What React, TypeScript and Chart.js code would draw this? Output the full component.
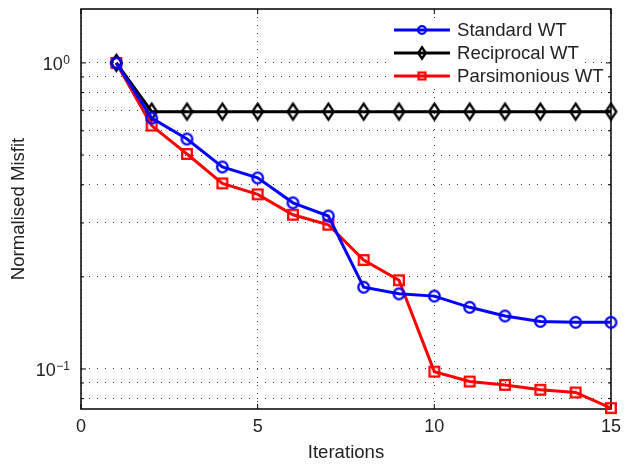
import React, { useEffect, useRef } from "react";
import { Chart, registerables } from "chart.js";

Chart.register(...registerables);

const iterations = [1, 2, 3, 4, 5, 6, 7, 8, 9, 10, 11, 12, 13, 14, 15];
const standardWT = [1.0, 0.66, 0.564, 0.457, 0.421, 0.349, 0.316, 0.185, 0.176, 0.173, 0.159, 0.149, 0.143, 0.142, 0.142];
const reciprocalWT = [1.0, 0.693, 0.693, 0.693, 0.693, 0.693, 0.693, 0.693, 0.693, 0.693, 0.693, 0.693, 0.693, 0.693, 0.693];
const parsimoniousWT = [1.0, 0.624, 0.504, 0.404, 0.372, 0.319, 0.296, 0.227, 0.195, 0.098, 0.091, 0.0887, 0.0855, 0.0838, 0.0745];
const seriesNames = ["Standard WT", "Reciprocal WT", "Parsimonious WT"];
const xTicks = [0, 5, 10, 15];
const yGridValues = [0.08, 0.09, 0.1, 0.2, 0.3, 0.4, 0.5, 0.6, 0.7, 0.8, 0.9, 1];
const yLabelValues = [1, 0.1];
const yLabelExponents = ["0", "\u22121"];

const FONT = "'Liberation Sans', Arial, Helvetica, sans-serif";
const TEXT = "#222";

function makeMarker(kind: string, color: string, scale: number): HTMLCanvasElement {
  const c = document.createElement("canvas");
  const ctx = c.getContext("2d")!;
  if (kind === "circle") {
    const r = 5.3 * scale;
    const s = Math.ceil(2 * r + 6);
    c.width = s; c.height = s;
    ctx.lineWidth = 2.3;
    ctx.strokeStyle = color;
    ctx.beginPath();
    ctx.arc(s / 2, s / 2, r, 0, Math.PI * 2);
    ctx.stroke();
  } else if (kind === "square") {
    const h = 4.8 * scale;
    const s = Math.ceil(2 * h + 6);
    c.width = s; c.height = s;
    ctx.lineWidth = 2.3;
    ctx.strokeStyle = color;
    ctx.strokeRect(s / 2 - h, s / 2 - h, 2 * h, 2 * h);
  } else {
    const hw = 5.3 * scale;
    const hh = 8 * scale;
    const w = Math.ceil(2 * hw + 6);
    const hgt = Math.ceil(2 * hh + 6);
    c.width = w; c.height = hgt;
    ctx.lineWidth = 2.3;
    ctx.strokeStyle = color;
    ctx.beginPath();
    ctx.moveTo(w / 2, hgt / 2 - hh);
    ctx.lineTo(w / 2 + hw, hgt / 2);
    ctx.lineTo(w / 2, hgt / 2 + hh);
    ctx.lineTo(w / 2 - hw, hgt / 2);
    ctx.closePath();
    ctx.stroke();
  }
  return c;
}

export default function App() {
  const ref = useRef<HTMLCanvasElement | null>(null);

  useEffect(() => {
    if (!ref.current) return;
    const colors = ["#0000ff", "#000000", "#ff0000"];
    const kinds = ["circle", "diamond", "square"];
    const markers = kinds.map((k, i) => makeMarker(k, colors[i], 1));
    const legendMarkers = kinds.map((k, i) => makeMarker(k, colors[i], 0.72));
    const values = [standardWT, reciprocalWT, parsimoniousWT];

    const boxPlugin = {
      id: "boxPlugin",
      beforeDatasetsDraw(chart: any) {
        const { ctx, chartArea: a, scales } = chart;
        ctx.save();
        ctx.strokeStyle = "#000";
        ctx.lineWidth = 1.5;
        ctx.strokeRect(a.left, a.top, a.right - a.left, a.bottom - a.top);
        ctx.lineWidth = 1;
        ctx.beginPath();
        xTicks.forEach((t) => {
          const x = scales.x.getPixelForValue(t);
          ctx.moveTo(x, a.bottom); ctx.lineTo(x, a.bottom - 5);
          ctx.moveTo(x, a.top); ctx.lineTo(x, a.top + 5);
        });
        yGridValues.forEach((v) => {
          const y = scales.y.getPixelForValue(v);
          const len = yLabelValues.includes(v) ? 5 : 3;
          ctx.moveTo(a.left, y); ctx.lineTo(a.left + len, y);
          ctx.moveTo(a.right, y); ctx.lineTo(a.right - len, y);
        });
        ctx.stroke();
        ctx.restore();
      },
      afterDatasetsDraw(chart: any) {
        const { ctx } = chart;
        ctx.save();
        const lx0 = 394, lx1 = 450, mx = 422, tx = 457;
        const rows = [30, 53, 76];
        ctx.font = `18.6px ${FONT}`;
        ctx.textBaseline = "middle";
        ctx.fillStyle = "#fff";
        ctx.fillRect(391, 18, 188, 66);
        rows.forEach((ry, i) => {
          const tw = ctx.measureText(seriesNames[i]).width;
          ctx.fillStyle = "#fff";
          ctx.fillRect(391, ry - 10, tx + tw + 4 - 391, 20);
        });
        rows.forEach((ry, i) => {
          ctx.strokeStyle = colors[i];
          ctx.lineWidth = 3;
          ctx.beginPath();
          ctx.moveTo(lx0, ry); ctx.lineTo(lx1, ry);
          ctx.stroke();
          const m = legendMarkers[i];
          ctx.drawImage(m, mx - m.width / 2, ry - m.height / 2);
          ctx.fillStyle = TEXT;
          ctx.fillText(seriesNames[i], tx, ry + 1);
        });
        ctx.restore();
      },
      afterDraw(chart: any) {
        const { ctx, scales } = chart;
        ctx.save();
        ctx.fillStyle = TEXT;
        ctx.textBaseline = "alphabetic";
        const right = 70;
        yLabelValues.forEach((v, i) => {
          const y = scales.y.getPixelForValue(v);
          ctx.font = `12px ${FONT}`;
          const ew = ctx.measureText(yLabelExponents[i]).width;
          ctx.textAlign = "left";
          ctx.fillText(yLabelExponents[i], right - ew, y + 1);
          ctx.font = `18px ${FONT}`;
          ctx.textAlign = "right";
          ctx.fillText("10", right - ew - 0.5, y + 7.5);
        });
        ctx.restore();
      },
    };

    const chart = new Chart(ref.current, {
      type: "line",
      data: {
        datasets: values.map((vals, i) => ({
          label: seriesNames[i],
          data: iterations.map((x, j) => ({ x, y: vals[j] })),
          borderColor: colors[i],
          backgroundColor: colors[i],
          borderWidth: 3,
          pointStyle: markers[i] as any,
          pointRadius: 6,
          clip: false as any,
          tension: 0,
        })),
      },
      options: {
        responsive: false,
        animation: false,
        layout: { padding: { left: 0, top: 7, right: 11, bottom: 0 } },
        plugins: { legend: { display: false }, tooltip: { enabled: false } },
        scales: {
          x: {
            type: "linear",
            min: 0,
            max: 15,
            afterBuildTicks: (s: any) => { s.ticks = xTicks.map((v) => ({ value: v })); },
            afterFit: (s: any) => { s.height = 55; },
            border: { display: false, dash: [1, 7] },
            grid: { color: "#333", lineWidth: 1, drawTicks: false },
            ticks: { color: TEXT, font: { size: 18, family: FONT }, padding: 7, maxRotation: 0 },
            title: { display: true, text: "Iterations", color: TEXT, font: { size: 18.6, family: FONT }, padding: { top: 4, bottom: 0 } },
          },
          y: {
            type: "logarithmic",
            min: 0.074,
            max: 1.5,
            afterBuildTicks: (s: any) => { s.ticks = yGridValues.map((v) => ({ value: v })); },
            afterFit: (s: any) => { s.width = 81; },
            border: { display: false, dash: [1, 7] },
            grid: { color: "#333", lineWidth: 1, drawTicks: false },
            ticks: { callback: () => "", autoSkip: false, padding: 0 },
            title: { display: true, text: "Normalised Misfit", color: TEXT, font: { size: 18.6, family: FONT }, padding: { top: 8, bottom: 0 } },
          },
        },
      },
      plugins: [boxPlugin],
    } as any);

    return () => chart.destroy();
  }, []);

  return (
    <div style={{ position: "fixed", left: 0, top: 0, width: 628, height: 464, background: "#fff" }}>
      <canvas ref={ref} width={628} height={464} />
    </div>
  );
}
